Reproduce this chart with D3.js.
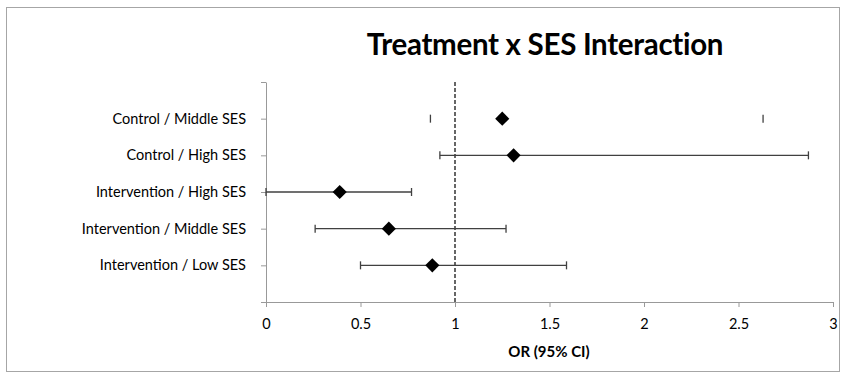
<!DOCTYPE html>
<html>
<head>
<meta charset="utf-8">
<script src="https://cdn.jsdelivr.net/npm/d3@7"></script>
<style>
  body { margin: 0; background: #fff; }
  svg text { font-family: Lato, "Open Sans", sans-serif; fill: #000; }
</style>
</head>
<body>
<div id="chart"></div>
<script>
// rows from top to bottom
const groups = ['Control / Middle SES', 'Control / High SES', 'Intervention / High SES', 'Intervention / Middle SES', 'Intervention / Low SES'];
const yPos = [5, 4, 3, 2, 1];
const orValues = [1.25, 1.31, 0.39, 0.65, 0.88];
const ciLow = [0.87, 0.92, 0.0, 0.26, 0.50];
const ciHigh = [2.63, 2.87, 0.77, 1.27, 1.59];
const showLine = [false, true, true, true, true];
const xTicks = [0, 0.5, 1, 1.5, 2, 2.5, 3];
const yTicks = [0, 1, 2, 3, 4, 5, 6];

const width = 846, height = 382;
const svg = d3.select('#chart').append('svg')
  .attr('width', width)
  .attr('height', height);

// chart frame
svg.append('rect')
  .attr('x', 6.5).attr('y', 7.5)
  .attr('width', 833).attr('height', 364)
  .attr('fill', '#fff')
  .attr('stroke', '#a6a6a6');

const x = d3.scaleLinear().domain([0, 3]).range([266, 833]);
const y = d3.scaleLinear().domain([0, 6]).range([302, 82]);

svg.append('text')
  .attr('x', 545).attr('y', 55)
  .attr('text-anchor', 'middle')
  .attr('font-size', 29.5).attr('font-weight', 'bold')
  .attr('letter-spacing', -0.3)
  .text('Treatment x SES Interaction');

// x axis
const xAxis = svg.append('g')
  .attr('transform', `translate(0,${y(0)})`)
  .call(d3.axisBottom(x).tickValues(xTicks).tickSize(5).tickSizeOuter(0).tickFormat(d3.format('')));
xAxis.select('.domain').attr('stroke', '#999');
xAxis.selectAll('.tick line').attr('stroke', '#999');
xAxis.selectAll('.tick text').attr('font-size', 14.5).attr('dy', '1.3em');

// y axis (no labels, categories are drawn separately)
const yAxis = svg.append('g')
  .attr('transform', `translate(${x(0)},0)`)
  .call(d3.axisLeft(y).tickValues(yTicks).tickSize(5).tickSizeOuter(0).tickFormat(''));
yAxis.select('.domain').attr('stroke', '#999');
yAxis.selectAll('.tick line').attr('stroke', '#999');

svg.append('text')
  .attr('x', 549).attr('y', 357)
  .attr('text-anchor', 'middle')
  .attr('font-size', 15).attr('font-weight', 'bold')
  .text('OR (95% CI)');

// reference line at OR = 1
svg.append('line')
  .attr('x1', x(1)).attr('x2', x(1))
  .attr('y1', y(6)).attr('y2', y(0))
  .attr('stroke', '#666')
  .attr('stroke-width', 2)
  .attr('stroke-dasharray', '4,2');

const rows = groups.map((g, i) => ({ g, y: yPos[i], or: orValues[i], lo: ciLow[i], hi: ciHigh[i], line: showLine[i] }));

svg.selectAll('.label')
  .data(rows)
  .enter().append('text')
  .attr('class', 'label')
  .attr('x', 246)
  .attr('y', d => y(d.y))
  .attr('dy', '0.35em')
  .attr('text-anchor', 'end')
  .attr('font-size', 14.5)
  .text(d => d.g);

const bars = svg.selectAll('.ci')
  .data(rows)
  .enter().append('g')
  .attr('class', 'ci')
  .attr('stroke', '#404040')
  .attr('stroke-width', 1.3);

bars.filter(d => d.line).append('line')
  .attr('x1', d => x(d.lo)).attr('x2', d => x(d.hi))
  .attr('y1', d => y(d.y)).attr('y2', d => y(d.y));
bars.append('line')
  .attr('x1', d => x(d.lo)).attr('x2', d => x(d.lo))
  .attr('y1', d => y(d.y) - 4).attr('y2', d => y(d.y) + 4);
bars.append('line')
  .attr('x1', d => x(d.hi)).attr('x2', d => x(d.hi))
  .attr('y1', d => y(d.y) - 4).attr('y2', d => y(d.y) + 4);

svg.selectAll('.pt')
  .data(rows)
  .enter().append('path')
  .attr('class', 'pt')
  .attr('d', d3.symbol(d3.symbolSquare, 100))
  .attr('transform', d => `translate(${x(d.or)},${y(d.y)}) rotate(45)`)
  .attr('fill', '#000');
</script>
</body>
</html>
